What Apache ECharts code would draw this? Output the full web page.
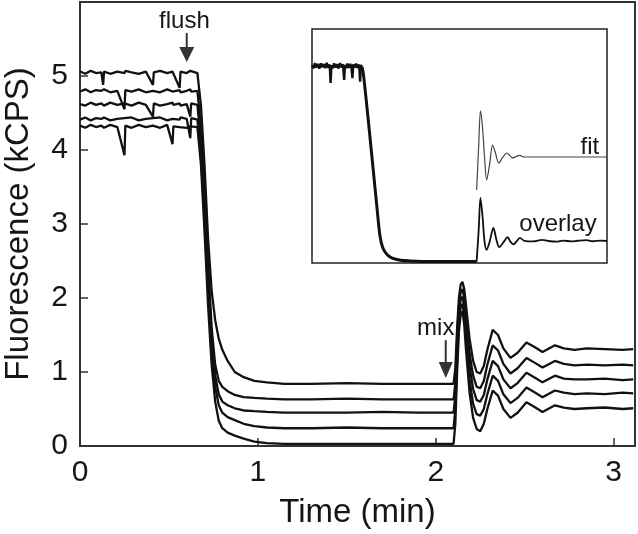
<!DOCTYPE html>
<html>
<head>
<meta charset="utf-8">
<script src="https://cdn.jsdelivr.net/npm/echarts@6/dist/echarts.min.js"></script>
<style>
html,body{margin:0;padding:0;background:#fff;}
#chart{width:638px;height:534px;}
</style>
</head>
<body>
<div id="chart"></div>
<script>
// ---- main panel data (time in min, fluorescence in kCPS) ----
var time = [0,0.03,0.06,0.09,0.12,0.13,0.135,0.17,0.21,0.25,0.255,0.29,0.33,0.37,0.41,0.415,0.45,0.49,0.52,0.525,0.56,0.565,0.60,0.62,0.625,0.66,
  0.68,0.70,0.72,0.74,0.76,0.78,0.80,0.83,0.87,0.92,0.98,1.05,1.15,
  1.3,1.5,1.7,1.9,2.05,
  2.10,2.11,2.12,2.13,2.14,2.15,2.16,2.17,2.19,2.21,2.23,2.25,2.27,2.29,2.32,2.35,2.38,2.42,2.46,2.51,2.56,2.60,2.67,2.72,2.78,2.85,2.95,3.05,3.11];

var traceA = [5.06,5.03,5.07,5.04,5.05,4.88,5.06,5.03,5.06,5.04,5.07,5.05,5.03,5.06,4.88,5.05,5.07,5.04,5.06,5.05,4.84,5.06,5.04,5.07,5.05,5.04,
  4.6,3.8,2.8,2.1,1.7,1.45,1.3,1.15,1.0,0.93,0.88,0.86,0.84,
  0.84,0.85,0.84,0.84,0.84,
  0.84,1.05,1.6,2.0,2.18,2.22,2.12,1.9,1.45,1.15,1.0,0.98,1.08,1.3,1.57,1.5,1.32,1.19,1.26,1.40,1.33,1.27,1.36,1.32,1.30,1.32,1.31,1.30,1.31];
var traceB = [4.79,4.82,4.78,4.81,4.80,4.79,4.82,4.78,4.80,4.55,4.81,4.79,4.82,4.78,4.80,4.81,4.78,4.82,4.79,4.80,4.81,4.78,4.80,4.82,4.79,4.80,
  4.3,3.5,2.5,1.6,1.1,0.88,0.80,0.74,0.69,0.66,0.65,0.64,0.63,
  0.63,0.64,0.63,0.63,0.63,
  0.63,0.85,1.45,1.9,2.08,2.12,2.0,1.75,1.25,0.95,0.8,0.78,0.88,1.1,1.36,1.29,1.11,0.98,1.05,1.19,1.12,1.06,1.15,1.11,1.09,1.10,1.09,1.10,1.09];
var traceC = [4.62,4.60,4.64,4.61,4.63,4.62,4.60,4.64,4.61,4.63,4.62,4.60,4.64,4.61,4.45,4.63,4.60,4.62,4.64,4.61,4.63,4.60,4.62,4.45,4.63,4.61,
  4.1,3.3,2.3,1.5,0.95,0.70,0.60,0.55,0.51,0.48,0.47,0.46,0.45,
  0.45,0.45,0.46,0.45,0.45,
  0.45,0.68,1.3,1.8,1.98,2.02,1.88,1.6,1.08,0.77,0.62,0.6,0.69,0.9,1.15,1.08,0.9,0.78,0.85,0.99,0.92,0.86,0.95,0.91,0.90,0.90,0.91,0.89,0.90];
var traceD = [4.41,4.44,4.40,4.43,4.42,4.41,4.44,4.40,4.42,4.43,4.41,4.44,4.40,4.42,4.43,4.41,4.44,4.40,4.42,4.43,4.41,4.44,4.42,4.16,4.43,4.41,
  3.9,3.1,2.1,1.3,0.8,0.55,0.45,0.39,0.35,0.30,0.27,0.25,0.24,
  0.24,0.25,0.24,0.24,0.24,
  0.24,0.5,1.15,1.68,1.88,1.92,1.76,1.45,0.9,0.57,0.43,0.41,0.5,0.7,0.95,0.88,0.7,0.58,0.65,0.79,0.72,0.66,0.75,0.72,0.70,0.71,0.70,0.72,0.71];
var traceE = [4.33,4.30,4.34,4.31,4.33,4.32,4.30,4.34,4.31,3.93,4.33,4.30,4.34,4.31,4.33,4.32,4.30,4.34,4.08,4.32,4.31,4.33,4.30,4.32,4.34,4.31,
  3.8,2.9,1.9,1.1,0.6,0.34,0.24,0.18,0.14,0.10,0.06,0.04,0.03,
  0.03,0.03,0.03,0.03,0.03,
  0.03,0.3,1.0,1.55,1.78,1.82,1.64,1.3,0.72,0.38,0.23,0.2,0.3,0.5,0.75,0.68,0.5,0.38,0.45,0.59,0.52,0.46,0.55,0.52,0.50,0.51,0.52,0.50,0.51];

var xTicks = [0,1,2,3];
var yTicks = [0,1,2,3,4,5];

// ---- inset data (relative units, 0-100) ----
var insetPlatX = [0,0.5,1,1.5,2,2.5,3,3.5,4,4.5,5,5.5,6,6.3,6.6,7,7.5,8,8.5,9,9.5,10,10.5,10.9,11.2,11.6,12,12.5,13,13.4,13.7,14,14.5,15,15.5,16,16.3,16.6,17];
var insetPlatY = [84.5,83.2,85.4,83.5,85.1,83.0,85.3,83.6,85.0,83.3,85.5,83.4,84.8,77,84.6,83.2,85.3,83.5,85.0,83.1,85.4,83.6,84.9,78.2,84.7,83.3,85.2,83.4,85.1,83.2,79,84.9,83.5,85.2,83.3,84.8,77.5,84.6,83.8];
var insetDropX = [17,17.5,19,20.5,22,23,24,25.5,27.2,30,33,40,55.8];
var insetDropY = [83.8,80,62,43,24,12,6.5,3.5,2.1,1.2,0.9,0.6,0.6];
var insetOscX = [55.8,56.5,57.1,57.8,58.5,59.2,60.2,61.5,62.5,63.5,65,66.3,67.3,68.3,69.5,70.5,72,75,78,80,83,85,88,90,93,95,98,100];
var insetOscY = [0.6,14,27.8,20,9,5.6,9,15,10,6.8,9,11,9,8,9.5,10.7,9.5,9.2,9.9,9.4,9.1,9.6,9.2,9.5,9.8,9.3,9.6,9.4];
var fitX = [55.8,56.5,57.1,57.8,58.5,59.2,60.2,61.2,62.2,63.3,64.6,66,67,68,69.2,70.4,72,73.8,100];
var fitY = [31.2,50,65,58,45,35.5,42,50.4,47,42.7,45,47,46,44.9,45.5,46,45.3,45.3,45.3];

function pairs(xs, ys){ return xs.map(function(x,i){ return [x, ys[i]]; }); }

var FONT = "'Liberation Sans', Arial, Helvetica, sans-serif";
var INK = '#161616';

var chart = echarts.init(document.getElementById('chart'), null, {renderer:'canvas'});

function mainLine(d){
  return {type:'line', xAxisIndex:0, yAxisIndex:0, data:d, showSymbol:false, symbol:'none',
    lineStyle:{color:'#111', width:2.3}, silent:true, animation:false, z:3};
}

var option = {
  animation:false,
  backgroundColor:'#fff',
  grid:[
    {left:80, top:2, width:555, height:444, outerBoundsMode:'none', containLabel:false,
      show:true, borderColor:'#333', borderWidth:2, backgroundColor:'transparent', z:1},
    {left:312, top:29, width:295, height:234, outerBoundsMode:'none', containLabel:false,
      show:true, borderColor:'#222', borderWidth:1.5, backgroundColor:'#fff', z:5}
  ],
  xAxis:[
    {type:'value', gridIndex:0, min:0, max:3.12, interval:1,
      name:'Time (min)', nameLocation:'middle', nameGap:50,
      nameTextStyle:{fontFamily:FONT, fontSize:33, color:INK},
      axisLine:{show:true, lineStyle:{color:'#333', width:2}},
      axisTick:{show:true, inside:true, length:8, lineStyle:{color:'#333', width:1.5}},
      axisLabel:{fontFamily:FONT, fontSize:30, color:INK, margin:12,
        formatter:function(v){ return xTicks.indexOf(v) >= 0 ? String(v) : ''; }},
      splitLine:{show:false}},
    {type:'value', gridIndex:1, min:0, max:100, show:false}
  ],
  yAxis:[
    {type:'value', gridIndex:0, min:0, max:6, interval:1,
      name:'Fluorescence (kCPS)', nameLocation:'middle', nameGap:45,
      nameTextStyle:{fontFamily:FONT, fontSize:33, color:INK},
      axisLine:{show:true, lineStyle:{color:'#333', width:2}},
      axisTick:{show:true, inside:true, length:8, lineStyle:{color:'#333', width:1.5}},
      axisLabel:{fontFamily:FONT, fontSize:30, color:INK, margin:12,
        formatter:function(v){ return yTicks.indexOf(v) >= 0 ? String(v) : ''; }},
      splitLine:{show:false}},
    {type:'value', gridIndex:1, min:0, max:100, show:false}
  ],
  series:[
    mainLine(pairs(time, traceA)),
    mainLine(pairs(time, traceB)),
    mainLine(pairs(time, traceC)),
    mainLine(pairs(time, traceD)),
    mainLine(pairs(time, traceE)),
    {type:'line', xAxisIndex:1, yAxisIndex:1, data:pairs(insetPlatX, insetPlatY), symbol:'none',
      lineStyle:{color:'#111', width:2.4}, z:6, silent:true},
    {type:'line', xAxisIndex:1, yAxisIndex:1, data:pairs(insetDropX, insetDropY), symbol:'none', smooth:0.3,
      lineStyle:{color:'#111', width:3}, z:6, silent:true},
    {type:'line', xAxisIndex:1, yAxisIndex:1, data:pairs(insetOscX, insetOscY), symbol:'none', smooth:0.3,
      lineStyle:{color:'#111', width:1.8}, z:6, silent:true},
    {type:'line', xAxisIndex:1, yAxisIndex:1, data:pairs(fitX, fitY), symbol:'none', smooth:0.3,
      lineStyle:{color:'#444', width:1.2}, z:6, silent:true}
  ]
};
chart.setOption(option);

// annotations placed through the axes
function px(x, y, g){ return chart.convertToPixel({gridIndex:g||0}, [x, y]); }
function arrow(t, vTop, vTip, headH, headW){
  var a = px(t, vTop), b = px(t, vTip);
  var hy = b[1] - headH;
  return [
    {type:'line', shape:{x1:a[0], y1:a[1], x2:a[0], y2:hy+1}, style:{stroke:'#333', lineWidth:2}, z:20},
    {type:'polygon', shape:{points:[[b[0]-headW/2, hy],[b[0]+headW/2, hy],[b[0], b[1]]]}, style:{fill:'#333'}, z:20}
  ];
}
function label(text, x, y, size, g){
  var p = px(x, y, g);
  return {type:'text', x:p[0], y:p[1], z:20,
    style:{text:text, font: size + 'px ' + FONT, fill:INK, textAlign:'center', textVerticalAlign:'middle'}};
}
var g = [];
g = g.concat(arrow(0.60, 5.58, 5.19, 15, 15));
g.push(label('flush', 0.587, 5.74, 24));
g = g.concat(arrow(2.056, 1.43, 0.92, 16, 14));
g.push(label('mix', 2.0, 1.59, 24));
g.push(label('fit', 94.2, 49.6, 24, 1));
g.push(label('overlay', 83.4, 16.7, 24, 1));
chart.setOption({graphic:{elements:g}});
</script>
</body>
</html>
